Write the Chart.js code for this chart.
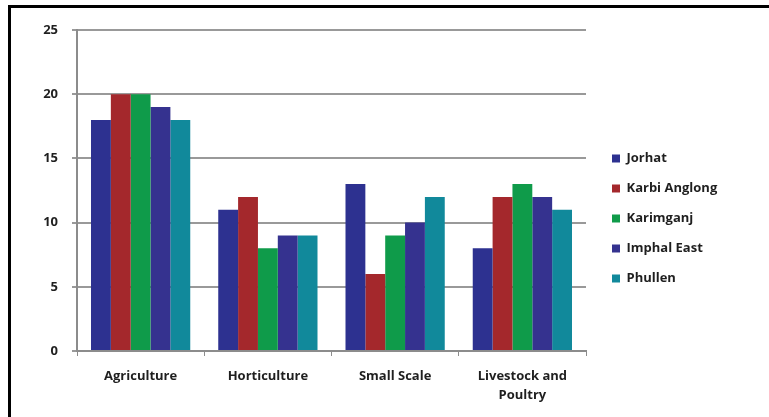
<!DOCTYPE html>
<html>
<head>
<meta charset="utf-8">
<script src="https://cdn.jsdelivr.net/npm/chart.js@4"></script>
<style>
  html, body { margin: 0; padding: 0; background: #fff; }
  #wrap { position: relative; width: 769px; height: 417px; overflow: hidden; }
  #frame { position: absolute; left: 8px; top: 5px; right: -10px; bottom: -10px;
           border-top: 3px solid #000; border-left: 3px solid #000; }
  #chart { position: absolute; left: 0; top: 0; }
</style>
</head>
<body>
<div id="wrap">
  <div id="frame"></div>
  <canvas id="chart" width="769" height="417"></canvas>
</div>
<script>
const categories = ['Agriculture', 'Horticulture', 'Small Scale', ['Livestock and', 'Poultry']];
const districts = ['Jorhat', 'Karbi Anglong', 'Karimganj', 'Imphal East', 'Phullen'];
const colores = ['#2d3190', '#a4282c', '#0f9b4a', '#35328f', '#11899b'];

const jorhat = [18, 11, 13, 8];
const karbiAnglong = [20, 12, 6, 12];
const karimganj = [20, 8, 9, 13];
const imphalEast = [19, 9, 10, 12];
const phullen = [18, 9, 12, 11];

const yTicks = [0, 5, 10, 15, 20, 25];

const series = [jorhat, karbiAnglong, karimganj, imphalEast, phullen];
const fontFam = '"Open Sans", Lato, sans-serif';
const AREA_RIGHT = 586;

// la leyenda ocupa desde el borde del área hasta el final del canvas
const ajustarLeyenda = {
    id: 'ajustarLeyenda',
    beforeLayout(chart) {
        const lg = chart.legend;
        if (!lg || lg._anchoFijo) return;
        const fitOrig = lg.fit.bind(lg);
        lg.fit = function () {
            fitOrig();
            this.width = chart.width - AREA_RIGHT;
        };
        lg._anchoFijo = true;
    },
    afterLayout(chart) {
        const lg = chart.legend;
        if (!lg) return;
        lg.left += 9; lg.right += 9;
        lg.top -= 5; lg.bottom -= 5;
    }
};

new Chart(document.getElementById('chart'), {
    type: 'bar',
    data: {
        labels: categories,
        datasets: districts.map((d, i) => ({
            label: d,
            data: series[i],
            backgroundColor: colores[i],
            borderWidth: 0,
            categoryPercentage: 0.78,
            barPercentage: 1
        }))
    },
    options: {
        responsive: false,
        animation: false,
        layout: { padding: { top: 30, left: 0, right: 0, bottom: 0 } },
        plugins: {
            tooltip: { enabled: false },
            legend: {
                position: 'right',
                align: 'center',
                labels: {
                    boxWidth: 8,
                    boxHeight: 8,
                    padding: 17,
                    color: '#1f1f1f',
                    font: { family: fontFam, size: 13, weight: 'bold' }
                }
            }
        },
        scales: {
            x: {
                afterFit(s) { s.height = 66; },
                grid: { display: true, drawOnChartArea: false, drawTicks: true, tickLength: 5, color: '#8c8c8c', lineWidth: 1 },
                border: { color: '#8c8c8c', width: 2 },
                ticks: { color: '#1f1f1f', padding: 11, font: { family: fontFam, size: 13, weight: 'bold', lineHeight: 1.45 } }
            },
            y: {
                min: 0,
                max: 25,
                afterFit(s) { s.width = 77; },
                afterBuildTicks(s) { s.ticks = yTicks.map(v => ({ value: v })); },
                grid: { color: '#999999', lineWidth: 2, tickLength: 5 },
                border: { color: '#8c8c8c', width: 2 },
                ticks: { color: '#1f1f1f', padding: 14, font: { family: fontFam, size: 13, weight: 'bold' } }
            }
        }
    },
    plugins: [ajustarLeyenda]
});
</script>
</body>
</html>
